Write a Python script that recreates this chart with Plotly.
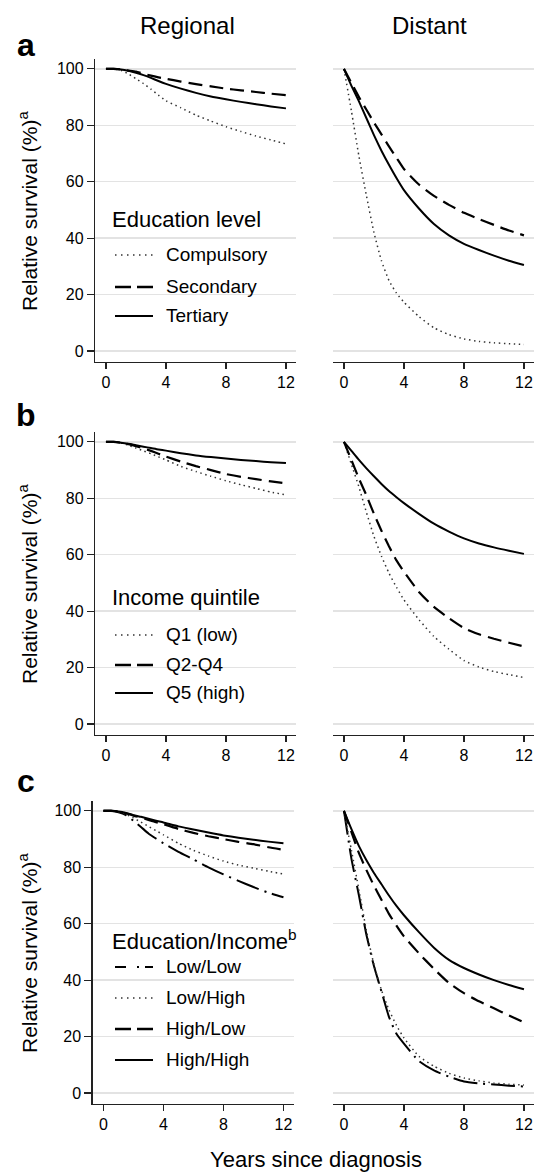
import plotly.graph_objects as go

# ---------------- data ----------------
T = [0, 0.5, 1, 1.5, 2, 2.5, 3, 3.5, 4, 5, 6, 7, 8, 9, 10, 11, 12]
X_TICKS = [0, 4, 8, 12]
Y_TICKS = [0, 20, 40, 60, 80, 100]
COLUMNS = ["Regional", "Distant"]
PANEL_LETTERS = ["a", "b", "c"]
LEGEND_TITLES = ["Education level", "Income quintile", "Education/Income<sup>b</sup>"]
X_TITLE = "Years since diagnosis"
Y_TITLE = "Relative survival (%)<sup>a</sup>"

# panel a: education level
edu_labels = ["Compulsory", "Secondary", "Tertiary"]
edu_reg_compulsory = [100, 100, 99.5, 98.2, 96.5, 94.8, 92.8, 90.7, 88.7, 86.2, 83.6, 81.5, 79.5, 77.8, 76.2, 74.8, 73.4]
edu_reg_secondary = [100, 100, 99.8, 99.4, 99.0, 98.3, 97.6, 97.0, 96.5, 95.5, 94.6, 93.8, 93.0, 92.4, 91.8, 91.2, 90.7]
edu_reg_tertiary = [100, 100, 99.8, 99.3, 98.6, 97.8, 96.8, 95.7, 94.7, 93.0, 91.5, 90.2, 89.2, 88.3, 87.5, 86.7, 86.0]
edu_dist_compulsory = [100, 85, 69, 55, 42, 32, 25, 20.5, 17.3, 12.2, 8.2, 5.8, 4.3, 3.4, 2.9, 2.6, 2.3]
edu_dist_secondary = [100, 95, 90, 85.5, 81, 76.8, 72.5, 68.5, 64.5, 59, 55, 51.8, 49, 46.8, 44.7, 42.7, 41]
edu_dist_tertiary = [100, 94, 88.5, 82.5, 76.5, 71, 66, 61.3, 57, 50.5, 45, 41, 38, 35.8, 33.8, 32, 30.5]

# panel b: income quintile
inc_labels = ["Q1 (low)", "Q2-Q4", "Q5 (high)"]
inc_reg_q1 = [100, 100, 99.6, 98.8, 97.8, 96.8, 95.8, 94.7, 93.6, 91.3, 89.5, 87.8, 86.2, 84.8, 83.5, 82.2, 81.2]
inc_reg_q2q4 = [100, 100, 99.7, 99.2, 98.5, 97.7, 96.8, 95.8, 94.8, 93.0, 91.4, 90.0, 88.6, 87.6, 86.8, 86.0, 85.3]
inc_reg_q5 = [100, 100, 99.7, 99.3, 98.8, 98.3, 97.8, 97.3, 96.9, 96.0, 95.2, 94.6, 94.1, 93.6, 93.2, 92.8, 92.5]
inc_dist_q1 = [100, 92, 84, 75, 66.5, 59.5, 53.5, 48.5, 44, 37, 31, 26.5, 22.5, 20.2, 18.6, 17.5, 16.5]
inc_dist_q2q4 = [100, 93.5, 87, 81, 74.5, 68.5, 63, 58, 54, 46.8, 41.5, 37.5, 34, 31.8, 30.2, 28.8, 27.5]
inc_dist_q5 = [100, 96.8, 93.6, 90.6, 87.8, 85.1, 82.6, 80.4, 78.3, 74.5, 71, 68.2, 65.8, 64, 62.6, 61.4, 60.3]

# panel c: education / income
ei_labels = ["Low/Low", "Low/High", "High/Low", "High/High"]
ei_reg_ll = [100, 100, 99.5, 98.5, 96.5, 94.3, 92.0, 90.2, 88.5, 85.5, 82.8, 80.0, 77.5, 75.2, 73.0, 71.0, 69.4]
ei_reg_lh = [100, 100, 99.6, 98.8, 97.5, 96.0, 94.5, 93.0, 91.5, 88.5, 86.0, 84.0, 82.2, 80.8, 79.7, 78.6, 77.6]
ei_reg_hl = [100, 100, 99.8, 99.2, 98.3, 97.6, 96.8, 96.0, 95.3, 93.6, 92.2, 91.0, 90.0, 89.0, 88.2, 87.1, 86.2]
ei_reg_hh = [100, 100, 99.8, 99.3, 98.5, 97.9, 97.2, 96.5, 95.9, 94.5, 93.4, 92.3, 91.3, 90.5, 89.8, 89.1, 88.5]
ei_dist_ll = [100, 83, 70, 56, 45, 36, 27, 21, 17.5, 11.3, 8.0, 5.8, 4.1, 3.4, 3.0, 2.6, 2.3]
ei_dist_lh = [100, 86, 72, 57.5, 45.5, 36.5, 29.5, 24, 19.5, 13, 9.5, 7, 5.3, 4.3, 3.5, 3.1, 2.8]
ei_dist_hl = [100, 92.5, 85, 79, 73.5, 68.5, 63.5, 59.3, 55.5, 49.5, 44, 39, 35.4, 32.5, 30, 27.5, 25]
ei_dist_hh = [100, 93.5, 87.5, 82.5, 78, 74, 70, 66.3, 63, 57, 51.5, 47.2, 44.3, 42, 40, 38.3, 36.8]

# ---------------- styles ----------------
W, H = 534, 1172
FONT = "Liberation Sans, Arial, Helvetica, sans-serif"
SOLID = dict(color="#000000", width=2.0, dash="solid")
DASH = dict(color="#000000", width=2.2, dash="14px,7px")
DOT = dict(color="#333333", width=1.5, dash="1.5px,3.5px")
DASHDOT = dict(color="#000000", width=2.0, dash="24px,6px,2px,6px")
LEG_SOLID = dict(color="#000000", width=2.0, dash="solid")
LEG_DASH = dict(color="#000000", width=2.4, dash="16px,6px")
LEG_DOT = dict(color="#333333", width=1.5, dash="1.5px,4.5px")
LEG_DASHDOT = dict(color="#000000", width=2.0, dash="11px,11px,2px,6px")

panels = [
    (edu_labels, [edu_reg_compulsory, edu_reg_secondary, edu_reg_tertiary],
     [edu_dist_compulsory, edu_dist_secondary, edu_dist_tertiary],
     [DOT, DASH, SOLID], [LEG_DOT, LEG_DASH, LEG_SOLID]),
    (inc_labels, [inc_reg_q1, inc_reg_q2q4, inc_reg_q5],
     [inc_dist_q1, inc_dist_q2q4, inc_dist_q5],
     [DOT, DASH, SOLID], [LEG_DOT, LEG_DASH, LEG_SOLID]),
    (ei_labels, [ei_reg_ll, ei_reg_lh, ei_reg_hl, ei_reg_hh],
     [ei_dist_ll, ei_dist_lh, ei_dist_hl, ei_dist_hh],
     [DASHDOT, DOT, DASH, SOLID], [LEG_DASHDOT, LEG_DOT, LEG_DASH, LEG_SOLID]),
]

# layout geometry (pixels)
ROW_TOP = [59, 432, 801]
ROW_H = 303
LEFT_X = [(95, 296), (95, 296), (92.5, 293.5)]
RIGHT_X = (333, 534)
X_RANGE = [-0.73, 12.67]
Y_RANGE = [-3.9, 103.5]
LETTER_Y = [44.5, 414.5, 781]
LEGEND_TITLE_Y = [219.5, 597, 940]
LEGEND_ITEM_Y = [[255, 287, 316], [635, 665, 693], [967, 998, 1029, 1060]]


def px(x):
    return x / W


def py(y):
    return 1 - y / H


fig = go.Figure()
layout = dict(
    width=W, height=H,
    margin=dict(l=0, r=0, t=0, b=0),
    paper_bgcolor="white", plot_bgcolor="white",
    showlegend=False,
    font=dict(family=FONT, color="#000000"),
)
annotations = []
shapes = []

for r, (labels, reg_series, dist_series, styles, leg_styles) in enumerate(panels):
    ytop = ROW_TOP[r]
    ydom = [py(ytop + ROW_H), py(ytop)]
    for c, series in enumerate([reg_series, dist_series]):
        idx = r * 2 + c + 1
        xname = "x" if idx == 1 else f"x{idx}"
        yname = "y" if idx == 1 else f"y{idx}"
        xkey = "xaxis" if idx == 1 else f"xaxis{idx}"
        ykey = "yaxis" if idx == 1 else f"yaxis{idx}"
        xd = LEFT_X[r] if c == 0 else RIGHT_X
        for lab, vals, st in zip(labels, series, styles):
            fig.add_trace(go.Scatter(
                x=T, y=vals, mode="lines", name=lab,
                line=dict(color=st["color"], width=st["width"], dash=st["dash"],
                          shape="spline", smoothing=0.5),
                xaxis=xname, yaxis=yname, hoverinfo="skip",
            ))
        layout[xkey] = dict(
            domain=[px(xd[0]), px(xd[1])], anchor=yname, range=X_RANGE,
            tickvals=X_TICKS, ticks="outside", ticklen=6, tickwidth=1.2,
            tickcolor="#222", showline=True, linecolor="#222", linewidth=1.2,
            showgrid=False, zeroline=False, fixedrange=True,
            tickfont=dict(size=16, family=FONT, color="#000"),
        )
        ycfg = dict(
            domain=ydom, anchor=xname, range=Y_RANGE, tickvals=Y_TICKS,
            showgrid=True, gridcolor="#e3e3e3", gridwidth=1.5, zeroline=False,
            fixedrange=True,
        )
        if c == 0:
            ycfg.update(showline=True, linecolor="#222", linewidth=1.2,
                        ticks="outside", ticklen=7, tickwidth=1.2, tickcolor="#222",
                        tickfont=dict(size=16, family=FONT, color="#000"))
        else:
            ycfg.update(showline=False, ticks="", showticklabels=False)
        layout[ykey] = ycfg

    # panel letter
    annotations.append(dict(
        text=f"<b>{PANEL_LETTERS[r]}</b>", x=px(26), y=py(LETTER_Y[r]),
        xref="paper", yref="paper", xanchor="center", yanchor="middle",
        showarrow=False, font=dict(size=32, family=FONT, color="#000"),
    ))
    # y-axis title
    annotations.append(dict(
        text=Y_TITLE, x=px(27.5), y=py(ytop + ROW_H / 2 + 1),
        xref="paper", yref="paper", xanchor="center", yanchor="middle",
        textangle=-90, showarrow=False, font=dict(size=21, family=FONT, color="#000"),
    ))
    # legend
    annotations.append(dict(
        text=LEGEND_TITLES[r], x=px(110), y=py(LEGEND_TITLE_Y[r]),
        xref="paper", yref="paper", xanchor="left", yanchor="middle",
        showarrow=False, font=dict(size=22, family=FONT, color="#000"),
    ))
    for lab, st, yy in zip(labels, leg_styles, LEGEND_ITEM_Y[r]):
        shapes.append(dict(
            type="line", xref="paper", yref="paper",
            x0=px(115), x1=px(153), y0=py(yy), y1=py(yy),
            line=dict(color=st["color"], width=st["width"], dash=st["dash"]),
        ))
        annotations.append(dict(
            text=lab, x=px(164), y=py(yy - 0.5),
            xref="paper", yref="paper", xanchor="left", yanchor="middle",
            showarrow=False, font=dict(size=19, family=FONT, color="#000"),
        ))

# column titles
for name, xc in zip(COLUMNS, [187.5, 429]):
    annotations.append(dict(
        text=name, x=px(xc), y=py(25.5), xref="paper", yref="paper",
        xanchor="center", yanchor="middle", showarrow=False,
        font=dict(size=24, family=FONT, color="#000"),
    ))
# x-axis title
annotations.append(dict(
    text=X_TITLE, x=px(316), y=py(1159), xref="paper", yref="paper",
    xanchor="center", yanchor="middle", showarrow=False,
    font=dict(size=22, family=FONT, color="#000"),
))

layout["annotations"] = annotations
layout["shapes"] = shapes
fig.update_layout(**layout)
fig.write_html(
    "out.html",
    config={"displayModeBar": False, "staticPlot": True},
    post_script="document.body.style.margin='0';document.body.style.padding='0';"
                "document.documentElement.style.overflow='hidden';",
)
